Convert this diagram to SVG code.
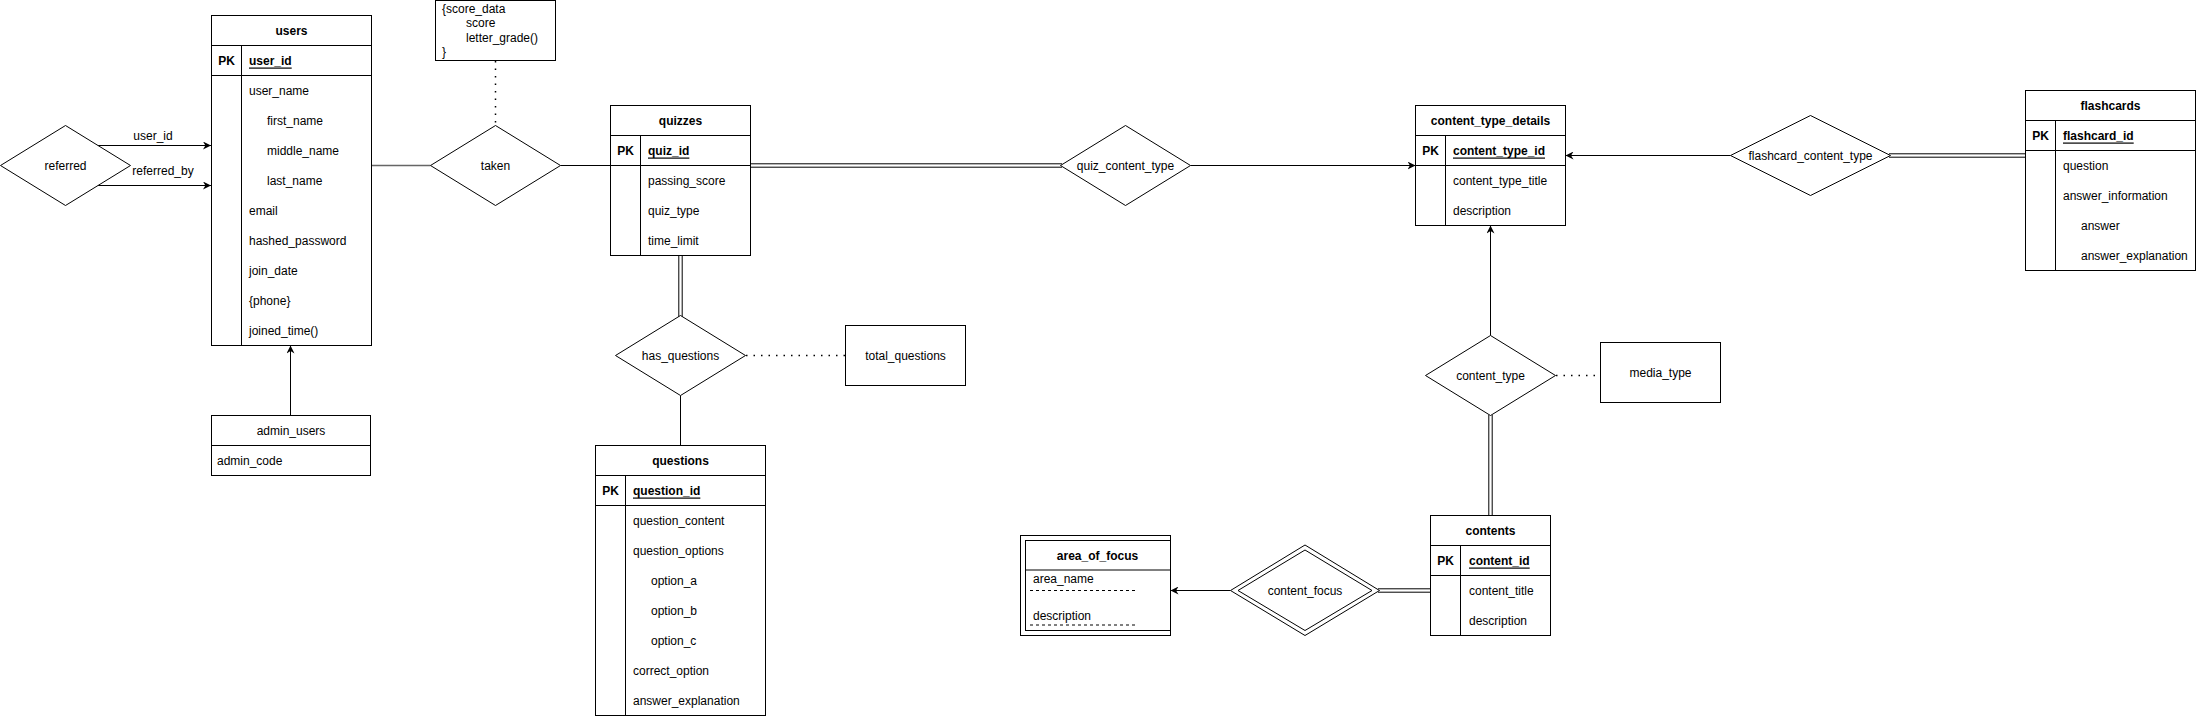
<svg xmlns="http://www.w3.org/2000/svg" width="2196" height="717" viewBox="0 0 2196 717">
<style>
  .bg { fill: #ffffff; }
  .box { fill: #ffffff; stroke: #000000; stroke-width: 1; }
  .ln { fill: none; stroke: #000000; stroke-width: 1; }
  .gl { fill: none; stroke: #666666; stroke-width: 1.5; }
  .dot { fill: none; stroke: #000000; stroke-width: 1.5; stroke-dasharray: 1.5 6; }
  .dash { fill: none; stroke: #000000; stroke-width: 1; stroke-dasharray: 3 3; }
  text { font-family: "Liberation Sans", Arial, sans-serif; font-size: 12px; fill: #000000; dominant-baseline: central; }
  .c { text-anchor: middle; }
  .b { font-weight: bold; }
  .u { font-weight: bold; text-decoration: underline; }
  .n { dominant-baseline: auto; }
</style>
<defs>
  <marker id="arr" viewBox="0 0 10 10" refX="10" refY="5" markerWidth="8" markerHeight="8" markerUnits="userSpaceOnUse" orient="auto">
    <path d="M0,0 L10,5 L0,10 L3,5 z" fill="#000000"/>
  </marker>
</defs>
<rect class="bg" x="0" y="0" width="2196" height="717"/>

<g id="connectors">
  <!-- referred -> users -->
  <line class="ln" x1="97.5" y1="145.5" x2="211" y2="145.5" marker-end="url(#arr)"/>
  <line class="ln" x1="97.5" y1="185.5" x2="211" y2="185.5" marker-end="url(#arr)"/>
  <text class="c" x="153" y="136">user_id</text>
  <text class="c" x="163" y="171">referred_by</text>
  <!-- admin_users -> users -->
  <line class="ln" x1="290.5" y1="415.5" x2="290.5" y2="345.5" marker-end="url(#arr)"/>
  <!-- users - taken -->
  <line class="gl" x1="371" y1="165.5" x2="430.5" y2="165.5"/>
  <!-- note dotted -->
  <line class="dot" x1="495.5" y1="61" x2="495.5" y2="125"/>
  <!-- taken - quizzes -->
  <line class="ln" x1="560.5" y1="165.5" x2="610.5" y2="165.5"/>
  <!-- quizzes = quiz_content_type -->
  <line class="ln" x1="750.5" y1="163.8" x2="1062" y2="163.8"/>
  <line class="ln" x1="750.5" y1="167.2" x2="1062" y2="167.2"/>
  <!-- quiz_content_type -> content_type_details -->
  <line class="ln" x1="1190.5" y1="165.5" x2="1415.5" y2="165.5" marker-end="url(#arr)"/>
  <!-- quizzes = has_questions -->
  <line class="ln" x1="678.8" y1="255.5" x2="678.8" y2="317"/>
  <line class="ln" x1="682.2" y1="255.5" x2="682.2" y2="317"/>
  <!-- has_questions dotted total_questions -->
  <line class="dot" x1="746" y1="355.5" x2="845.5" y2="355.5"/>
  <!-- has_questions - questions -->
  <line class="ln" x1="680.5" y1="395.5" x2="680.5" y2="445.5"/>
  <!-- flashcard_content_type -> content_type_details -->
  <line class="ln" x1="1730.5" y1="155.5" x2="1565.5" y2="155.5" marker-end="url(#arr)"/>
  <!-- flashcard_content_type = flashcards -->
  <line class="ln" x1="1889" y1="153.8" x2="2025.5" y2="153.8"/>
  <line class="ln" x1="1889" y1="157.2" x2="2025.5" y2="157.2"/>
  <!-- content_type -> content_type_details -->
  <line class="ln" x1="1490.5" y1="335.5" x2="1490.5" y2="225.5" marker-end="url(#arr)"/>
  <!-- content_type dotted media_type -->
  <line class="dot" x1="1556" y1="375.5" x2="1600.5" y2="375.5"/>
  <!-- content_type = contents -->
  <line class="ln" x1="1488.8" y1="415" x2="1488.8" y2="515.5"/>
  <line class="ln" x1="1492.2" y1="415" x2="1492.2" y2="515.5"/>
  <!-- contents = content_focus -->
  <line class="ln" x1="1378" y1="588.8" x2="1430.5" y2="588.8"/>
  <line class="ln" x1="1378" y1="592.2" x2="1430.5" y2="592.2"/>
  <!-- content_focus -> area_of_focus -->
  <line class="ln" x1="1230.5" y1="590.5" x2="1170.5" y2="590.5" marker-end="url(#arr)"/>
</g>

<g id="referred">
  <polygon class="box" points="0.5,165.5 65.5,125.5 130.5,165.5 65.5,205.5"/>
  <text class="c" x="65.5" y="165.5">referred</text>
</g>

<g id="users">
  <rect class="box" x="211.5" y="15.5" width="160" height="330"/>
  <line class="ln" x1="211.5" y1="45.5" x2="371.5" y2="45.5"/>
  <line class="ln" x1="211.5" y1="75.5" x2="371.5" y2="75.5"/>
  <line class="ln" x1="241.5" y1="45.5" x2="241.5" y2="345.5"/>
  <text class="c b" x="291.5" y="30.5">users</text>
  <text class="c b" x="226.5" y="60.5">PK</text>
  <text class="u" x="249" y="60.5">user_id</text>
  <text x="249" y="90.5">user_name</text>
  <text x="267" y="120.5">first_name</text>
  <text x="267" y="150.5">middle_name</text>
  <text x="267" y="180.5">last_name</text>
  <text x="249" y="210.5">email</text>
  <text x="249" y="240.5">hashed_password</text>
  <text x="249" y="270.5">join_date</text>
  <text x="249" y="300.5">{phone}</text>
  <text x="249" y="330.5">joined_time()</text>
</g>

<g id="admin_users">
  <rect class="box" x="211.5" y="415.5" width="159" height="60"/>
  <line class="ln" x1="211.5" y1="445.5" x2="370.5" y2="445.5"/>
  <text class="c" x="291" y="430.5">admin_users</text>
  <text x="217" y="460.5">admin_code</text>
</g>

<g id="score_data_note">
  <rect class="box" x="435.5" y="0.5" width="120" height="60"/>
  <text x="442" y="9">{score_data</text>
  <text x="466" y="23">score</text>
  <text x="466" y="37.5">letter_grade()</text>
  <text x="442" y="51.5">}</text>
</g>

<g id="taken">
  <polygon class="box" points="430.5,165.5 495.5,125.5 560.5,165.5 495.5,205.5"/>
  <text class="c" x="495.5" y="165.5">taken</text>
</g>

<g id="quizzes">
  <rect class="box" x="610.5" y="105.5" width="140" height="150"/>
  <line class="ln" x1="610.5" y1="135.5" x2="750.5" y2="135.5"/>
  <line class="ln" x1="610.5" y1="165.5" x2="750.5" y2="165.5"/>
  <line class="ln" x1="640.5" y1="135.5" x2="640.5" y2="255.5"/>
  <text class="c b" x="680.5" y="120.5">quizzes</text>
  <text class="c b" x="625.5" y="150.5">PK</text>
  <text class="u" x="648" y="150.5">quiz_id</text>
  <text x="648" y="180.5">passing_score</text>
  <text x="648" y="210.5">quiz_type</text>
  <text x="648" y="240.5">time_limit</text>
</g>

<g id="quiz_content_type">
  <polygon class="box" points="1060.5,165.5 1125.5,125.5 1190.5,165.5 1125.5,205.5"/>
  <text class="c" x="1125.5" y="165.5">quiz_content_type</text>
</g>

<g id="has_questions">
  <polygon class="box" points="615.5,355.5 680.5,315.5 745.5,355.5 680.5,395.5"/>
  <text class="c" x="680.5" y="355.5">has_questions</text>
</g>

<g id="total_questions">
  <rect class="box" x="845.5" y="325.5" width="120" height="60"/>
  <text class="c" x="905.5" y="355.5">total_questions</text>
</g>

<g id="questions">
  <rect class="box" x="595.5" y="445.5" width="170" height="270"/>
  <line class="ln" x1="595.5" y1="475.5" x2="765.5" y2="475.5"/>
  <line class="ln" x1="595.5" y1="505.5" x2="765.5" y2="505.5"/>
  <line class="ln" x1="625.5" y1="475.5" x2="625.5" y2="715.5"/>
  <text class="c b" x="680.5" y="460.5">questions</text>
  <text class="c b" x="610.5" y="490.5">PK</text>
  <text class="u" x="633" y="490.5">question_id</text>
  <text x="633" y="520.5">question_content</text>
  <text x="633" y="550.5">question_options</text>
  <text x="651" y="580.5">option_a</text>
  <text x="651" y="610.5">option_b</text>
  <text x="651" y="640.5">option_c</text>
  <text x="633" y="670.5">correct_option</text>
  <text x="633" y="700.5">answer_explanation</text>
</g>

<g id="content_type_details">
  <rect class="box" x="1415.5" y="105.5" width="150" height="120"/>
  <line class="ln" x1="1415.5" y1="135.5" x2="1565.5" y2="135.5"/>
  <line class="ln" x1="1415.5" y1="165.5" x2="1565.5" y2="165.5"/>
  <line class="ln" x1="1445.5" y1="135.5" x2="1445.5" y2="225.5"/>
  <text class="c b" x="1490.5" y="120.5">content_type_details</text>
  <text class="c b" x="1430.5" y="150.5">PK</text>
  <text class="u" x="1453" y="150.5">content_type_id</text>
  <text x="1453" y="180.5">content_type_title</text>
  <text x="1453" y="210.5">description</text>
</g>

<g id="flashcard_content_type">
  <polygon class="box" points="1730.5,155.5 1810.5,115.5 1890.5,155.5 1810.5,195.5"/>
  <text class="c" x="1810.5" y="155.5">flashcard_content_type</text>
</g>

<g id="flashcards">
  <rect class="box" x="2025.5" y="90.5" width="170" height="180"/>
  <line class="ln" x1="2025.5" y1="120.5" x2="2195.5" y2="120.5"/>
  <line class="ln" x1="2025.5" y1="150.5" x2="2195.5" y2="150.5"/>
  <line class="ln" x1="2055.5" y1="120.5" x2="2055.5" y2="270.5"/>
  <text class="c b" x="2110.5" y="105.5">flashcards</text>
  <text class="c b" x="2040.5" y="135.5">PK</text>
  <text class="u" x="2063" y="135.5">flashcard_id</text>
  <text x="2063" y="165.5">question</text>
  <text x="2063" y="195.5">answer_information</text>
  <text x="2081" y="225.5">answer</text>
  <text x="2081" y="255.5">answer_explanation</text>
</g>

<g id="content_type">
  <polygon class="box" points="1425.5,375.5 1490.5,335.5 1555.5,375.5 1490.5,415.5"/>
  <text class="c" x="1490.5" y="375.5">content_type</text>
</g>

<g id="media_type">
  <rect class="box" x="1600.5" y="342.5" width="120" height="60"/>
  <text class="c" x="1660.5" y="372.5">media_type</text>
</g>

<g id="contents">
  <rect class="box" x="1430.5" y="515.5" width="120" height="120"/>
  <line class="ln" x1="1430.5" y1="545.5" x2="1550.5" y2="545.5"/>
  <line class="ln" x1="1430.5" y1="575.5" x2="1550.5" y2="575.5"/>
  <line class="ln" x1="1460.5" y1="545.5" x2="1460.5" y2="635.5"/>
  <text class="c b" x="1490.5" y="530.5">contents</text>
  <text class="c b" x="1445.5" y="560.5">PK</text>
  <text class="u" x="1469" y="560.5">content_id</text>
  <text x="1469" y="590.5">content_title</text>
  <text x="1469" y="620.5">description</text>
</g>

<g id="content_focus">
  <polygon class="box" points="1230.5,590.5 1305,545 1379.5,590.5 1305,635.5"/>
  <polygon class="ln" points="1238,590.5 1305,550 1372,590.5 1305,630.5"/>
  <text class="c" x="1305" y="590.5">content_focus</text>
</g>

<g id="area_of_focus">
  <rect class="box" x="1020.5" y="535.5" width="150" height="100"/>
  <rect class="ln" x="1025.5" y="540.5" width="145" height="90"/>
  <line class="ln" x1="1025.5" y1="570" x2="1170.5" y2="570"/>
  <text class="c b" x="1097.5" y="555.5">area_of_focus</text>
  <text x="1033" y="578.5">area_name</text>
  <line class="dash" x1="1030" y1="590.5" x2="1136" y2="590.5"/>
  <text x="1033" y="615.5">description</text>
  <line class="dash" x1="1030" y1="625" x2="1136" y2="625"/>
</g>
</svg>
